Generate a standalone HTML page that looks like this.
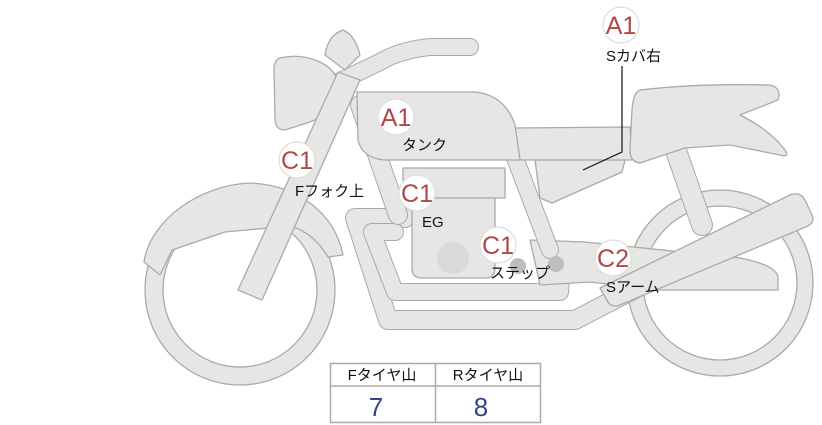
<!DOCTYPE html>
<html><head><meta charset="utf-8"><style>
html,body{margin:0;padding:0;background:#fff;width:822px;height:425px;overflow:hidden}
svg{display:block}
</style></head><body>
<svg width="822" height="425" viewBox="0 0 822 425" xmlns="http://www.w3.org/2000/svg">
<defs>
<style>
.s{fill:#e6e6e4;stroke:#aaaaaa;stroke-width:1.3;stroke-linejoin:round}
.o{fill:none;stroke:#aaaaaa;stroke-linecap:round;stroke-linejoin:round}
.i{fill:none;stroke:#e6e6e4;stroke-linecap:round;stroke-linejoin:round}
.lbl{font-family:"Liberation Sans","Noto Sans CJK JP",sans-serif;font-size:15px;fill:#111}
.cd{font-family:"Liberation Sans","Noto Sans CJK JP",sans-serif;font-size:25px;fill:#b04848}
</style>
</defs>
<!-- rear wheel -->
<path class="s" fill-rule="evenodd" d="M813,283a93,93 0 1,0 -186,0a93,93 0 1,0 186,0zM797,283a77,77 0 1,0 -154,0a77,77 0 1,0 154,0z"/>
<!-- front wheel -->
<path class="s" fill-rule="evenodd" d="M335,290a95,95 0 1,0 -190,0a95,95 0 1,0 190,0zM317,290a77,77 0 1,0 -154,0a77,77 0 1,0 154,0z"/>
<!-- front fender -->
<path class="s" d="M144,262 C150,220 200,185 250,183 C300,185 335,215 343,255 L328,257 C318,240 305,230 290,226 L225,232 L172,250 L160,275 Z"/>
<!-- exhaust pipes -->
<path class="o" stroke-width="20" d="M405,218 L355,218 L388,320 L575,320 L745,232"/>
<path class="i" stroke-width="18" d="M405,218 L355,218 L388,320 L575,320 L745,232"/>
<path class="o" stroke-width="18" d="M395,232 L372,232 L395,292 L560,292 L562,262"/>
<path class="i" stroke-width="16" d="M395,232 L372,232 L395,292 L560,292 L562,262"/>
<!-- swingarm -->
<path class="s" d="M530,240 L585,242 L740,258 C760,262 778,268 778,278 L778,290 L660,290 L590,282 L540,285 Z"/>
<!-- rear shock -->
<path class="o" stroke-width="22" d="M674,145 L702,225"/>
<path class="i" stroke-width="20" d="M674,145 L702,225"/>
<!-- frame tubes -->
<path class="o" stroke-width="20" d="M360,105 L398,215"/>
<path class="i" stroke-width="18" d="M360,105 L398,215"/>
<path class="o" stroke-width="18" d="M512,150 L550,250"/>
<path class="i" stroke-width="16" d="M512,150 L550,250"/>
<!-- engine -->
<rect class="s" x="403" y="168" width="102" height="30"/>
<path class="s" d="M412,198 L495,198 L495,268 Q495,278 485,278 L422,278 Q412,278 412,268 Z"/>
<circle cx="453" cy="258" r="16" fill="#d9d9d9"/>
<circle cx="518" cy="266" r="8" fill="#bdbdbd"/>
<circle cx="556" cy="264" r="8" fill="#bdbdbd"/>
<!-- muffler -->
<path class="s" d="M600,288 L790,195 Q800,191 805,200 L812,215 Q815,222 808,226 L620,305 Q612,308 608,302 Z"/>
<!-- handlebar -->
<path class="o" stroke-width="18" d="M330,86 L380,62 Q400,50 430,47 L470,47"/>
<path class="i" stroke-width="16" d="M330,86 L380,62 Q400,50 430,47 L470,47"/>
<!-- side cover -->
<path class="s" d="M535,160 L625,160 L622,172 L552,203 L540,198 Z"/>
<!-- seat -->
<path class="s" d="M513,128 L630,127 L632,160 L522,160 Q512,158 513,148 Z"/>
<path class="s" d="M640,90 Q700,83 770,85 Q782,88 778,100 L740,115 Q770,130 785,150 Q790,158 780,155 L730,145 L685,148 L640,163 Q630,162 630,150 L632,110 Q633,93 640,90 Z"/>
<!-- tank -->
<path class="s" d="M357,92 L475,92 Q505,95 515,125 L520,160 L385,160 Q362,158 358,140 Z"/>
<!-- headlight -->
<path class="s" d="M343,30 Q355,35 360,55 L345,70 L325,55 Q328,35 343,30 Z"/>
<path class="s" d="M280,58 Q300,53 320,62 Q340,72 338,90 Q330,115 310,122 L285,130 Q275,130 275,118 L274,70 Q274,60 280,58 Z"/>
<!-- fork -->
<path class="s" d="M338,72 L360,80 L262,300 L238,290 Z"/>
<!-- leader line -->
<path d="M622,66 L622,152 L583,170" fill="none" stroke="#111" stroke-width="1.2"/>
<!-- labels -->
<g stroke="#dddddd" stroke-width="1.2" fill="#fff">
<circle cx="621" cy="25" r="18"/><circle cx="396" cy="117" r="18"/><circle cx="297" cy="160" r="18"/>
<circle cx="417" cy="193" r="18"/><circle cx="498" cy="245" r="18"/><circle cx="613" cy="258" r="18"/>
</g>
<g class="cd" text-anchor="middle">
<text x="621" y="34">A1</text><text x="396" y="126">A1</text><text x="297" y="169">C1</text>
<text x="417" y="202">C1</text><text x="498" y="254">C1</text><text x="613" y="267">C2</text>
</g>
<g class="lbl">
<text x="606" y="61">Sカバ右</text><text x="402" y="150">タンク</text><text x="295" y="196">Fフォク上</text>
<text x="422" y="227">EG</text><text x="490" y="278">ステップ</text><text x="606" y="292">Sアーム</text>
</g>
<!-- table -->
<rect x="330.5" y="363.5" width="210" height="59" fill="#fff" stroke="#aaa" stroke-width="1.5"/>
<line x1="330" y1="386" x2="540" y2="386" stroke="#aaa" stroke-width="1.5"/>
<line x1="435.5" y1="363" x2="435.5" y2="422" stroke="#aaa" stroke-width="1.5"/>
<text class="lbl" x="382" y="380" text-anchor="middle">Fタイヤ山</text>
<text class="lbl" x="488" y="380" text-anchor="middle">Rタイヤ山</text>
<text x="376" y="416" text-anchor="middle" style="font-family:'Liberation Sans',sans-serif;font-size:26px;fill:#334488">7</text>
<text x="481" y="416" text-anchor="middle" style="font-family:'Liberation Sans',sans-serif;font-size:26px;fill:#334488">8</text>
</svg>
</body></html>
